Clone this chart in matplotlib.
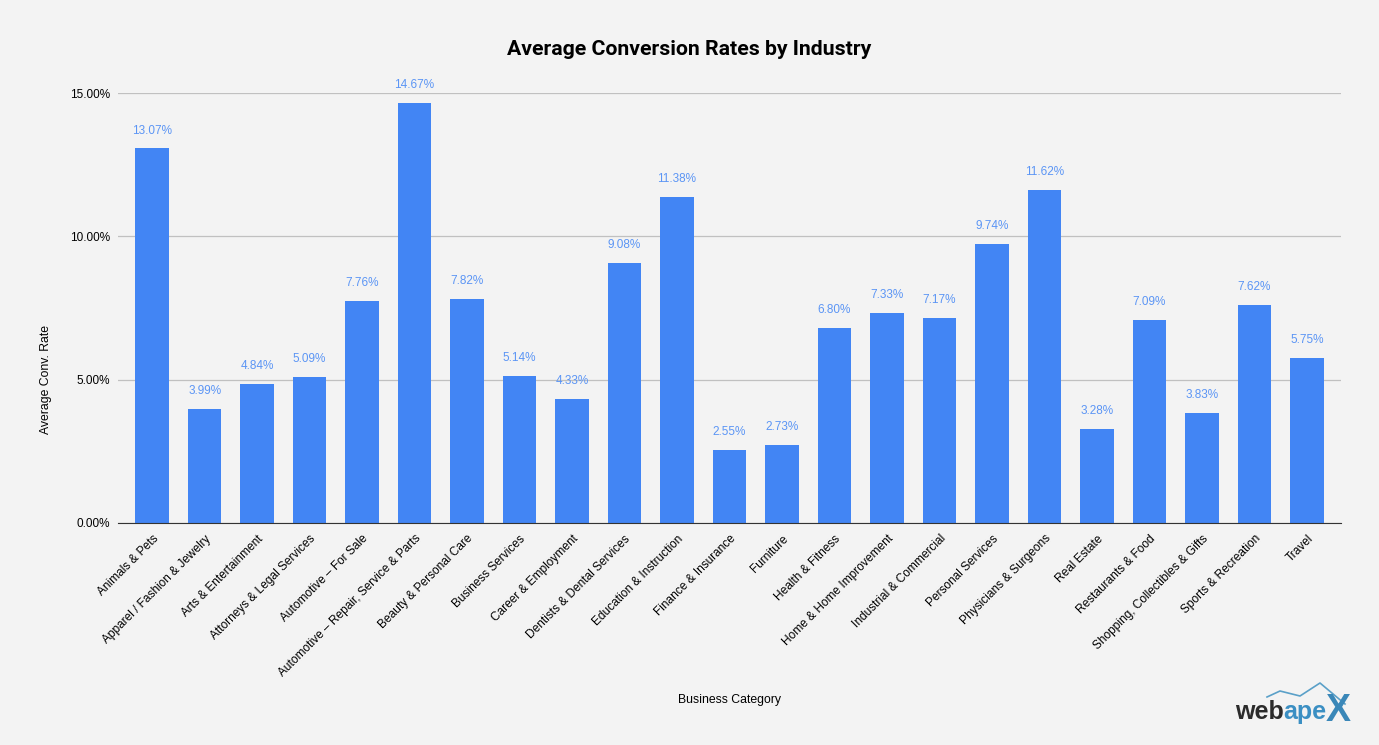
import matplotlib.pyplot as plt
import numpy as np

categories = [
    'Animals & Pets', 'Apparel / Fashion & Jewelry', 'Arts & Entertainment',
    'Attorneys & Legal Services', 'Automotive \u2013 For Sale',
    'Automotive \u2013 Repair, Service & Parts', 'Beauty & Personal Care',
    'Business Services', 'Career & Employment', 'Dentists & Dental Services',
    'Education & Instruction', 'Finance & Insurance', 'Furniture',
    'Health & Fitness', 'Home & Home Improvement', 'Industrial & Commercial',
    'Personal Services', 'Physicians & Surgeons', 'Real Estate',
    'Restaurants & Food', 'Shopping, Collectibles & Gifts',
    'Sports & Recreation', 'Travel',
]
conv_rates = [13.07, 3.99, 4.84, 5.09, 7.76, 14.67, 7.82, 5.14, 4.33, 9.08,
              11.38, 2.55, 2.73, 6.80, 7.33, 7.17, 9.74, 11.62, 3.28, 7.09,
              3.83, 7.62, 5.75]
y_ticks = [0, 5, 10, 15]

BG = '#f3f3f3'
BLUE = '#4285f4'
LABEL_BLUE = '#5b95f5'

plt.rcParams['font.family'] = ['Liberation Sans', 'DejaVu Sans']

fig = plt.figure(figsize=(13.79, 7.45), dpi=100, facecolor=BG)
ax = fig.add_axes([0.0856, 0.298, 0.8868, 0.577], facecolor=BG)

x = np.arange(len(categories))
ax.bar(x, conv_rates, width=0.64, color=BLUE, zorder=3)

for xi, v in zip(x, conv_rates):
    ax.annotate(f'{v:.2f}%', (xi, v), xytext=(0, 8.5), textcoords='offset points',
                ha='center', va='bottom', fontsize=8.5, color=LABEL_BLUE,
                annotation_clip=False)

ax.set_xlim(-0.65, len(categories) - 0.35)
ax.set_ylim(0, 15)
ax.set_yticks(y_ticks)
ax.set_yticklabels([f'{t:.2f}%' for t in y_ticks], fontsize=8.5)
ax.yaxis.grid(True, color='#c0c0c0', linewidth=0.9, zorder=0)
ax.tick_params(axis='y', length=0, pad=6)
ax.set_xticks(x)
ax.set_xticklabels(categories, rotation=45, ha='right', rotation_mode='anchor',
                   fontsize=8.6)
ax.tick_params(axis='x', length=0, pad=7)
for s in ['top', 'right', 'left']:
    ax.spines[s].set_visible(False)
ax.spines['bottom'].set_color('#333333')
ax.spines['bottom'].set_zorder(4)

ax.set_ylabel('Average Conv. Rate', fontsize=8.8)
ax.yaxis.set_label_coords(-0.054, 0.333)

fig.text(0.529, 0.06, 'Business Category', ha='center', va='center', fontsize=8.8)
fig.text(0.5, 0.934, 'Average Conversion Rates by Industry', ha='center',
         va='center', fontsize=15.3, fontweight='bold', family=['Roboto', 'DejaVu Sans'])

# logo
t_web = fig.text(1235 / 1379, 1 - 719 / 745, 'web', fontsize=18, fontweight='bold',
                 color='#2b2b2b', ha='left', va='baseline')
t_ape = fig.text(0, 0, 'ape', fontsize=18, fontweight='bold', color='#3b8fc3',
                 ha='left', va='baseline')
fig.canvas.draw()
bb = t_web.get_window_extent()
t_ape.set_position((bb.x1 / 1379, 1 - 719 / 745))
fig.text(1326 / 1379, 1 - 721 / 745, 'X', fontsize=27, fontweight='bold',
         color='#3a87b8', ha='left', va='baseline')
fig.add_artist(plt.Line2D(np.array([1267, 1280, 1300, 1320, 1345]) / 1379,
                          1 - np.array([697, 691, 696, 683, 704]) / 745,
                          transform=fig.transFigure, color='#5aa0c8', linewidth=1.2))

fig.savefig('out.png', dpi=100, facecolor=BG)
